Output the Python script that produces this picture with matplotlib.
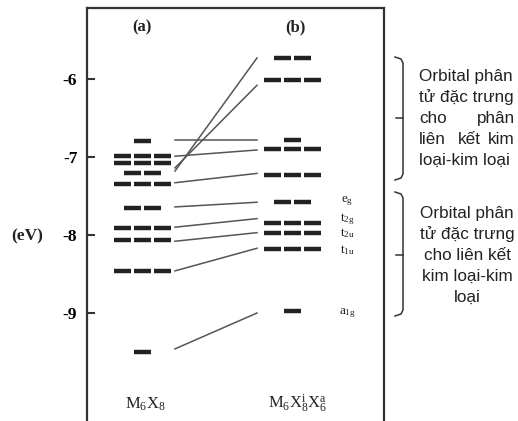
import matplotlib
matplotlib.use('Agg')
import matplotlib.pyplot as plt
from matplotlib.lines import Line2D

# ---------------- data ----------------
levels_a = [-6.79, -6.99, -7.08, -7.20, -7.34, -7.66, -7.91, -8.06, -8.46, -9.50]
degen_a = [1, 3, 3, 2, 3, 2, 3, 3, 3, 1]
levels_b = [-5.73, -6.01, -6.78, -6.90, -7.23, -7.58, -7.84, -7.97, -8.18, -8.97]
degen_b = [2, 3, 1, 3, 3, 2, 3, 3, 3, 1]
corr_from = [-6.78, -6.99, -7.18, -7.14, -7.33, -7.64, -7.90, -8.08, -8.46, -9.46]
corr_to = [-6.78, -6.91, -5.73, -6.08, -7.21, -7.58, -7.79, -7.97, -8.17, -9.00]
sym_labels = [r'$\mathrm{e_g}$', r'$\mathrm{t_{2g}}$', r'$\mathrm{t_{2u}}$',
              r'$\mathrm{t_{1u}}$', r'$\mathrm{a_{1g}}$']
sym_energies = [-7.57, -7.80, -7.98, -8.20, -9.00]
yticks = [-6, -7, -8, -9]
ytick_labels = ['-6', '-7', '-8', '-9']
column_labels = ['(a)', '(b)']
compound_labels = [r'$\mathrm{M_6X_8}$', r'$\mathrm{M_6X^i_8X^a_6}$']
ylabel_text = '(eV)'
block1_lines = ['Orbital phân', 'tử đặc trưng', ['cho', 'phân'], ['liên', 'kết', 'kim'], 'loại-kim loại']
block2_lines = ['Orbital phân', 'tử đặc trưng', 'cho liên kết', 'kim loại-kim', 'loại']

# ---------------- style ----------------
plt.rcParams['mathtext.fontset'] = 'custom'
plt.rcParams['mathtext.rm'] = 'Liberation Serif'
plt.rcParams['mathtext.it'] = 'Liberation Serif:italic'
plt.rcParams['mathtext.bf'] = 'Liberation Serif:bold'
SERIF = ['Liberation Serif', 'DejaVu Serif']
SANS = ['Liberation Sans', 'DejaVu Sans']

W, H = 518, 421
fig = plt.figure(figsize=(W / 100, H / 100), dpi=100)
fig.patch.set_facecolor('white')


def px(x, y):
    return x / W, 1 - y / H


ax_left, ax_right, ax_top = 87, 384, 8
ax = fig.add_axes([ax_left / W, 0, (ax_right - ax_left) / W, 1 - ax_top / H])
E_top = -6 + (79 - ax_top) / 78.0
E_bot = -6 - (H - 79) / 78.0
ax.set_ylim(E_bot, E_top)
ax.set_xlim(0, 1)

for s in ['left', 'right', 'top']:
    ax.spines[s].set_linewidth(1.6)
    ax.spines[s].set_color('#333333')
ax.spines['bottom'].set_visible(False)
ax.set_xticks([])
ax.set_yticks(yticks)
ax.set_yticklabels(ytick_labels, fontfamily=SERIF, fontweight='bold', fontsize=12.5)
ax.tick_params(axis='y', direction='in', length=6, width=1.5, color='#333333', pad=7)

span = ax_right - ax_left
col_a = (142 - ax_left) / span
col_b = (292 - ax_left) / span
pitch = 20 / span
dw = 17 / span


def draw_levels(center, levels, degen):
    for e, n in zip(levels, degen):
        for i in range(n):
            c = center + (i - (n - 1) / 2) * pitch
            ax.plot([c - dw / 2, c + dw / 2], [e, e], color='#222222', lw=3.2,
                    solid_capstyle='butt')


draw_levels(col_a, levels_a, degen_a)
draw_levels(col_b, levels_b, degen_b)

x0 = (175 - ax_left) / span
x1 = (257 - ax_left) / span
for ea, eb in zip(corr_from, corr_to):
    ax.plot([x0, x1], [ea, eb], color='#555555', lw=1.1)

sym_x = (347 - ax_left) / span
for lab, e in zip(sym_labels, sym_energies):
    ax.text(sym_x, e, lab, fontsize=9.5, ha='center', va='center', color='#222222')

# column titles and compound labels
for lab, xp in zip(column_labels, [142, 295]):
    fig.text(*px(xp, 27), lab, fontfamily=SERIF, fontweight='bold', fontsize=12,
             ha='center', va='center', color='#222222')
for lab, xp in zip(compound_labels, [145, 298]):
    fig.text(*px(xp, 404), lab, fontsize=12, ha='center', va='center', color='#222222')

fig.text(*px(27, 236), ylabel_text, fontfamily=SERIF, fontweight='bold', fontsize=12.5,
         ha='center', va='center', color='#222222')


# brackets
def bracket(y0, y1, ym):
    xs = [395, 401, 403, 403, 401, 395]
    ys = [y0, y0 + 2, y0 + 6, y1 - 6, y1 - 2, y1]
    fig.add_artist(Line2D([x / W for x in xs], [1 - y / H for y in ys],
                          color='#333333', lw=1.1, transform=fig.transFigure))
    fig.add_artist(Line2D([403 / W, 396 / W], [1 - ym / H, 1 - ym / H],
                          color='#333333', lw=1.1, transform=fig.transFigure))


bracket(57, 180, 118)
bracket(192, 316, 255)

FS = 12.3
tl, tr = 419, 515
BASE = 5  # baseline offset below line centre (px)


def put(x, y, s, ha):
    fig.text(*px(x, y + BASE), s, fontfamily=SANS, fontsize=FS, ha=ha, va='baseline',
             color='#222222')


ys1 = [76, 97, 118, 139, 160]
for line, y in zip(block1_lines, ys1):
    if isinstance(line, str):
        put(tl, y, line, 'left')
    else:
        n = len(line)
        for i, w in enumerate(line):
            if i == 0:
                put(tl, y, w, 'left')
            elif i == n - 1:
                put(tr, y, w, 'right')
            else:
                put((tl + tr) / 2 + 2, y, w, 'center')

ys2 = [213, 234, 255, 276, 297]
for line, y in zip(block2_lines, ys2):
    put(467, y, line, 'center')

fig.savefig('out.png', dpi=100, facecolor='white')
